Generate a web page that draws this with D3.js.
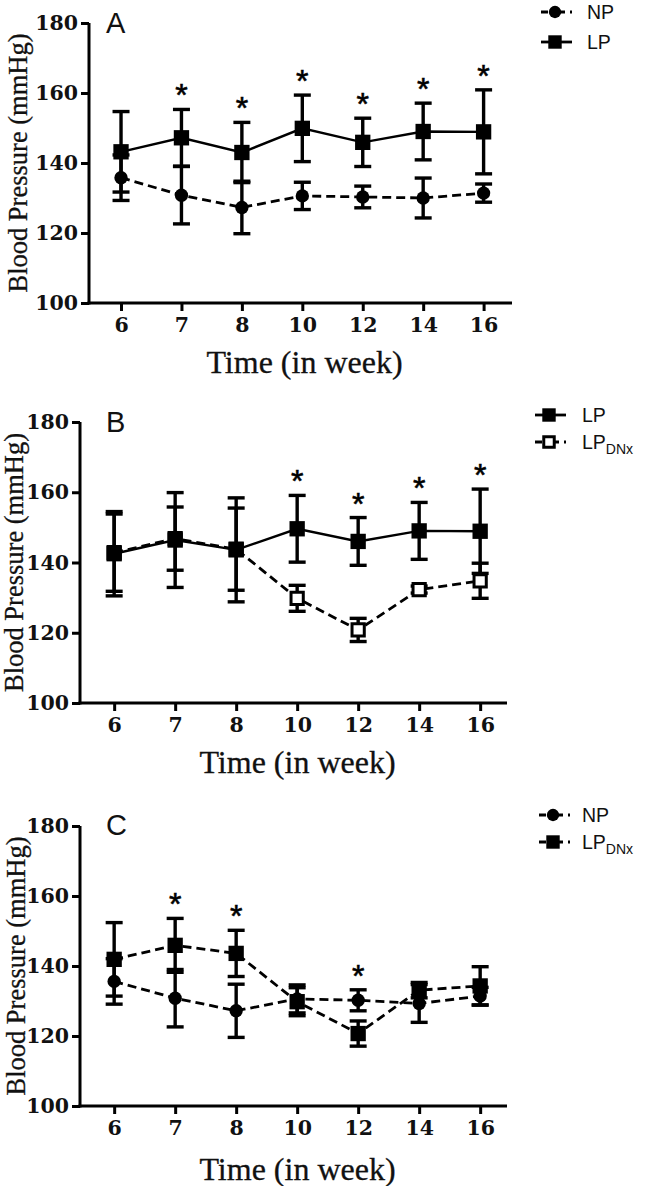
<!DOCTYPE html>
<html><head><meta charset="utf-8">
<script src="https://cdn.jsdelivr.net/npm/d3@7"></script>
<style>body{margin:0;background:#fff}svg{display:block}</style>
</head><body>
<svg id="c" width="648" height="1186"></svg>
<script>
// ---- data ----
const weeks = ["6","7","8","10","12","14","16"];
const yTicks = [100,120,140,160,180];

// Panel A
const npMeanA  = [135.8,130.8,127.3,130.6,130.3,130.0,131.4];
const npSemA   = [6.5,8.2,7.5,3.9,3.1,5.7,2.6];
const lpMeanA  = [143.2,147.2,143.0,149.9,145.9,149.0,148.9];
const lpSemA   = [11.5,8.1,8.6,9.5,6.9,8.1,12.0];
const starsA   = ["7","8","10","12","14","16"];

// Panel B
const lpMeanB    = [142.5,146.4,143.6,149.6,146.0,149.0,148.9];
const lpSemB     = [12.0,13.5,14.8,9.5,6.8,8.1,12.0];
const lpdnxMeanB = [142.8,146.8,143.8,129.8,120.8,132.3,134.8];
const lpdnxSemB  = [11.0,9.0,11.7,3.7,3.3,1.0,5.0];
const starsB     = ["10","12","14","16"];

// Panel C
const npMeanC    = [135.6,130.8,127.2,130.6,130.2,129.3,131.4];
const npSemC     = [6.5,8.2,7.6,4.0,3.0,5.4,2.5];
const lpdnxMeanC = [141.9,145.9,143.6,129.8,120.7,133.1,134.3];
const lpdnxSemC  = [10.5,7.7,6.6,4.0,3.6,2.2,5.5];
const starsC     = ["7","8","12"];

// ---- drawing ----
const svg = d3.select("#c");
const DASH = "9,5";

function panel(cfg){
  const g = svg.append("g");
  const x = d3.scalePoint().domain(weeks).range([cfg.left, cfg.right]).padding(0.5).align(cfg.align);
  const y = d3.scaleLinear().domain([100,180]).range([cfg.bottom, cfg.top]);

  cfg.series.forEach(s => {
    const pts = weeks.map((w,i)=>({w, m:s.mean[i], e:s.sem[i]}));
    const sg = g.append("g");
    sg.append("path").datum(pts)
      .attr("fill","none").attr("stroke","#000").attr("stroke-width", s.dashed?2.8:2.4)
      .attr("stroke-dasharray", s.dashed?DASH:null)
      .attr("d", d3.line().x(d=>x(d.w)).y(d=>y(d.m)));
    const eb = sg.selectAll(".eb").data(pts).join("g");
    eb.append("line").attr("x1",d=>x(d.w)).attr("x2",d=>x(d.w))
      .attr("y1",d=>y(d.m-d.e)).attr("y2",d=>y(d.m+d.e))
      .attr("stroke","#000").attr("stroke-width",3.4);
    [1,-1].forEach(sign=>{
      eb.append("line").attr("x1",d=>x(d.w)-8.5).attr("x2",d=>x(d.w)+8.5)
        .attr("y1",d=>y(d.m+sign*d.e)).attr("y2",d=>y(d.m+sign*d.e))
        .attr("stroke","#000").attr("stroke-width",3.4);
    });
    sg.selectAll(".mk").data(pts).join("path")
      .attr("transform", d=>`translate(${x(d.w)},${y(d.m)})`)
      .attr("d", s.shape==="circle" ? d3.symbol(d3.symbolCircle, 140)() : d3.symbol(d3.symbolSquare, s.open?150:235)())
      .attr("fill", s.open?"#fff":"#000")
      .attr("stroke","#000").attr("stroke-width", s.open?3:0);
  });

  cfg.stars.forEach(w=>{
    const i = weeks.indexOf(w);
    const top = d3.max(cfg.series, s=>s.mean[i]+s.sem[i]);
    g.append("text").attr("x", x(w)).attr("y", y(top)-21+18)
      .attr("text-anchor","middle").attr("font-family","Liberation Sans, Arial, sans-serif")
      .attr("font-size",32).attr("fill","#000").attr("stroke","#000").attr("stroke-width",0.6).text("*");
  });

  const ya = g.append("g").attr("transform",`translate(${cfg.left},0)`)
    .call(d3.axisLeft(y).tickValues(yTicks).tickSizeOuter(0).tickSize(8).tickPadding(3));
  const xa = g.append("g").attr("transform",`translate(0,${cfg.bottom})`)
    .call(d3.axisBottom(x).tickSizeOuter(0).tickSize(8).tickPadding(6));
  [ya,xa].forEach(a=>{
    a.selectAll("path,line").attr("stroke","#000").attr("stroke-width",3);
    a.selectAll("text").attr("font-family","DejaVu Serif, serif").attr("font-weight","bold")
      .attr("font-size",20.5).attr("fill","#111");
  });
  ya.select(".domain").attr("d",`M0,${cfg.bottom+1.5}V${cfg.top}`);
  xa.select(".domain").attr("d",`M${cfg.left-1.5},0H${cfg.right}`);

  g.append("text").attr("x", (cfg.left+cfg.right)/2+4).attr("y", cfg.xTitleY)
    .attr("text-anchor","middle").attr("font-family","Liberation Serif, serif")
    .attr("font-size",32).attr("fill","#111").attr("stroke","#111").attr("stroke-width",0.3).text("Time (in week)");
  g.append("text").attr("transform",`translate(${cfg.yTitleX},${(cfg.top+cfg.bottom)/2}) rotate(-90)`)
    .attr("text-anchor","middle").attr("font-family","Liberation Serif, serif")
    .attr("font-size",26.5).attr("fill","#111").attr("stroke","#111").attr("stroke-width",0.3).text("Blood Pressure (mmHg)");
  g.append("text").attr("x",106).attr("y",cfg.top+cfg.letterDy)
    .attr("font-family","Liberation Sans, Arial, sans-serif").attr("font-size",29).attr("fill","#111")
    .text(cfg.letter);

  cfg.series.slice().sort((a,b)=>a.legendOrder-b.legendOrder).forEach((s,k)=>{
    const ly = cfg.legendY + k*cfg.legendGap;
    const lx = cfg.legendX;
    g.append("line").attr("x1",lx-14).attr("x2",lx+17).attr("y1",ly).attr("y2",ly)
      .attr("stroke","#000").attr("stroke-width",2.8)
      .attr("stroke-dasharray", s.dashed?"7,5,2,3":null);
    g.append("path").attr("transform",`translate(${lx},${ly})`)
      .attr("d", s.shape==="circle" ? d3.symbol(d3.symbolCircle, 120)() : d3.symbol(d3.symbolSquare, s.open?110:180)())
      .attr("fill", s.open?"#fff":"#000").attr("stroke","#000").attr("stroke-width", s.open?3:0);
    const t = g.append("text").attr("x", cfg.legendTextX).attr("y", ly+7)
      .attr("font-family","Liberation Sans, Arial, sans-serif").attr("font-size",19.5).attr("fill","#111");
    t.append("tspan").text(s.label);
    if (s.sub) t.append("tspan").attr("dy",5).attr("font-size",14).text(s.sub);
  });
}

panel({
  letter:"A", letterDy:10, left:89, right:512, top:23, bottom:303, align:0.53,
  xTitleY:373, yTitleX:27,
  legendX:555, legendY:12, legendGap:30, legendTextX:587,
  stars: starsA,
  series:[
    {label:"NP", mean:npMeanA, sem:npSemA, shape:"circle", dashed:true, legendOrder:0},
    {label:"LP", mean:lpMeanA, sem:lpSemA, shape:"square", dashed:false, legendOrder:1}
  ]
});
panel({
  letter:"B", letterDy:10, left:80, right:507, top:422, bottom:703, align:0.56,
  xTitleY:773, yTitleX:23,
  legendX:549, legendY:415, legendGap:27, legendTextX:582,
  stars: starsB,
  series:[
    {label:"LP", sub:"DNx", mean:lpdnxMeanB, sem:lpdnxSemB, shape:"square", open:true, dashed:true, legendOrder:1},
    {label:"LP", mean:lpMeanB, sem:lpSemB, shape:"square", dashed:false, legendOrder:0}
  ]
});
panel({
  letter:"C", letterDy:9, left:80, right:507, top:826, bottom:1106, align:0.56,
  xTitleY:1180, yTitleX:25,
  legendX:553, legendY:815, legendGap:27, legendTextX:582,
  stars: starsC,
  series:[
    {label:"NP", mean:npMeanC, sem:npSemC, shape:"circle", dashed:true, legendOrder:0},
    {label:"LP", sub:"DNx", mean:lpdnxMeanC, sem:lpdnxSemC, shape:"square", dashed:true, legendOrder:1}
  ]
});
</script>
</body></html>
